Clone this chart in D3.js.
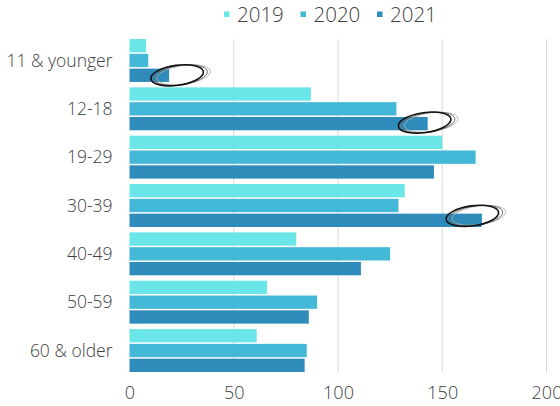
<!DOCTYPE html>
<html>
<head>
<meta charset="utf-8">
<script src="https://cdn.jsdelivr.net/npm/d3@7"></script>
<style>
  html, body { margin: 0; padding: 0; background: #fff; }
  svg { display: block; }
  text { font-family: "Open Sans", "Noto Sans", sans-serif; font-weight: 300; fill: #404040; }
</style>
</head>
<body>
<svg id="chart" width="560" height="406"></svg>
<script>
const categories = ["11 & younger", "12-18", "19-29", "30-39", "40-49", "50-59", "60 & older"];
const seriesNames = ["2019", "2020", "2021"];
const values2019 = [8, 87, 150, 132, 80, 66, 61];
const values2020 = [9, 128, 166, 129, 125, 90, 85];
const values2021 = [19, 143, 146, 169, 111, 86, 84];
const seriesColors = ["#6be6e8", "#43b8d7", "#2e8bba"];
const xTicks = [0, 50, 100, 150, 200];
// hand-drawn highlight marks: [category, series, dx, dy]
const highlights = [["11 & younger", "2021", 8, 0], ["12-18", "2021", -3, -1], ["30-39", "2021", -9.5, -4.5]];

const seriesValues = [values2019, values2020, values2021];
const svg = d3.select("#chart");

const x = d3.scaleLinear().domain([0, 200]).range([129.5, 546.5]);
const y = d3.scaleBand().domain(categories).range([36.3, 374.7]).paddingInner(0.112).paddingOuter(0.056);
const yIn = d3.scaleBand().domain(seriesNames).range([0, y.bandwidth()]).paddingInner(0.101);
const color = d3.scaleOrdinal().domain(seriesNames).range(seriesColors);

// gridlines
svg.append("g").selectAll("line").data(xTicks.filter(d => d > 0)).join("line")
  .attr("x1", d => x(d)).attr("x2", d => x(d))
  .attr("y1", 39).attr("y2", 373)
  .attr("stroke", "#d9d9d9").attr("stroke-width", 1);

// bars
const groups = svg.append("g").selectAll("g").data(categories).join("g")
  .attr("transform", c => `translate(0,${y(c)})`);
groups.selectAll("rect").data((c, i) => seriesNames.map((s, j) => ({ s, v: seriesValues[j][i] }))).join("rect")
  .attr("x", x(0))
  .attr("y", d => yIn(d.s))
  .attr("width", d => x(d.v) - x(0))
  .attr("height", yIn.bandwidth())
  .attr("fill", d => color(d.s));

// x axis
const xAxis = d3.axisBottom(x).tickValues(xTicks).tickSize(0).tickPadding(0);
const gx = svg.append("g").attr("transform", "translate(0,382)").call(xAxis);
gx.select(".domain").remove();
gx.selectAll("text").attr("font-size", 18).attr("dy", "0.95em").style("fill", "#404040")
  .attr("font-family", "'Open Sans', sans-serif").attr("font-weight", 300);

// y axis
const yAxis = d3.axisLeft(y).tickSize(0).tickPadding(0);
const gy = svg.append("g").attr("transform", "translate(112.5,0)").call(yAxis);
gy.select(".domain").remove();
gy.selectAll("text").attr("font-size", 17.5).attr("dy", "0.35em").style("fill", "#404040")
  .attr("font-family", "'Open Sans', sans-serif").attr("font-weight", 300);

// highlight ellipses
const ellG = svg.append("g");
highlights.forEach(([cat, s, dx, dy]) => {
  const i = categories.indexOf(cat);
  const j = seriesNames.indexOf(s);
  const cx = x(seriesValues[j][i]) + dx;
  const cy = y(cat) + yIn(s) + yIn.bandwidth() / 2 + dy;
  const g = ellG.append("g").attr("transform", `translate(${cx},${cy}) rotate(-8)`);
  g.append("ellipse").attr("cx", 6.5).attr("cy", 0.5).attr("rx", 27).attr("ry", 9.3)
    .attr("fill", "none").attr("stroke", "#aaa").attr("stroke-width", 0.8);
  g.append("ellipse").attr("cx", 3.5).attr("cy", 0.3).attr("rx", 27).attr("ry", 9.7)
    .attr("fill", "none").attr("stroke", "#666").attr("stroke-width", 0.9);
  g.append("ellipse").attr("cx", 0).attr("cy", 0).attr("rx", 26.5).attr("ry", 10)
    .attr("fill", "none").attr("stroke", "#111").attr("stroke-width", 1.6);
});

// legend
const legendX = [224, 300.5, 377];
const lg = svg.append("g").selectAll("g").data(seriesNames).join("g")
  .attr("transform", (d, i) => `translate(${legendX[i]},0)`);
lg.append("rect").attr("x", 0).attr("y", 11.5).attr("width", 5.5).attr("height", 5.5).attr("fill", d => color(d));
lg.append("text").attr("x", 13).attr("y", 22).attr("font-size", 20.5).text(d => d);
</script>
</body>
</html>
